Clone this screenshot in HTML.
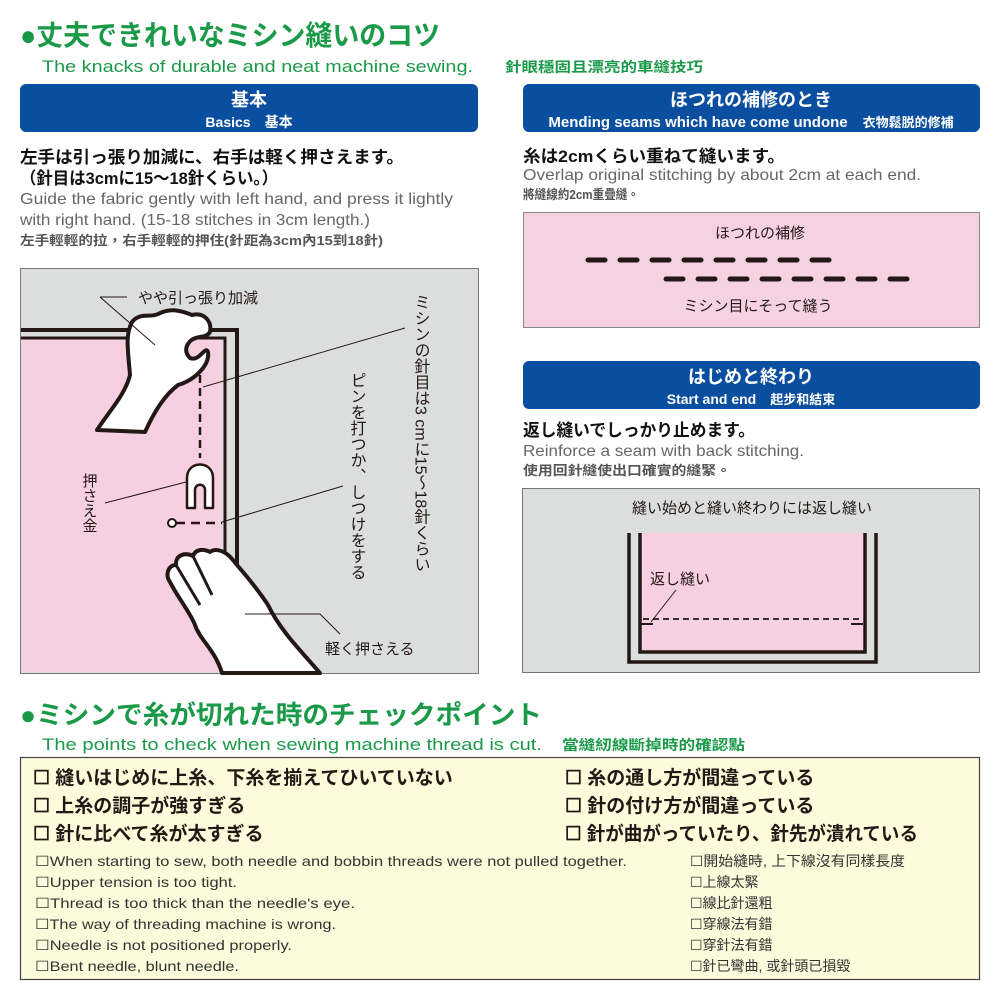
<!DOCTYPE html>
<html><head><meta charset="utf-8"><style>
html,body{margin:0;padding:0;background:#fff;}
svg{display:block;}
text{font-family:"Liberation Sans","Noto Sans CJK JP",sans-serif;}
.cn{font-family:"Liberation Sans","Noto Sans CJK TC",sans-serif;}
.nar{font-family:"Liberation Sans Narrow","Liberation Sans","Noto Sans CJK TC",sans-serif;}
</style></head><body>
<svg width="1001" height="1001" viewBox="0 0 1001 1001" xmlns="http://www.w3.org/2000/svg">
<rect width="1001" height="1001" fill="#fff"/>
<text x="20" y="45" font-size="28" font-weight="bold" fill="#1a9a48" textLength="420" lengthAdjust="spacingAndGlyphs">●丈夫できれいなミシン縫いのコツ</text>
<text x="42" y="72" font-size="17" fill="#1a9a48" textLength="431" lengthAdjust="spacingAndGlyphs">The knacks of durable and neat machine sewing.</text>
<text x="505" y="72" font-size="14" font-weight="bold" fill="#1a9a48" class="cn" textLength="198" lengthAdjust="spacingAndGlyphs">針眼穩固且漂亮的車縫技巧</text>

<rect x="20" y="84" width="458" height="48" rx="6" fill="#0a4f9f"/>
<text x="249" y="106" font-size="18" font-weight="bold" fill="#fff" text-anchor="middle">基本</text>
<text x="249" y="127" font-size="14" font-weight="bold" fill="#fff" text-anchor="middle">Basics　<tspan class="cn">基本</tspan></text>
<text x="20" y="163" font-size="17" font-weight="bold" fill="#111" textLength="384" lengthAdjust="spacingAndGlyphs">左手は引っ張り加減に、右手は軽く押さえます。</text>
<text x="20" y="184" font-size="17" font-weight="bold" fill="#111" textLength="258" lengthAdjust="spacingAndGlyphs">（針目は3cmに15～18針くらい。）</text>
<text x="20" y="204" font-size="16" fill="#666" textLength="433" lengthAdjust="spacingAndGlyphs">Guide the fabric gently with left hand, and press it lightly</text>
<text x="20" y="225" font-size="16" fill="#666" textLength="350" lengthAdjust="spacingAndGlyphs">with right hand. (15-18 stitches in 3cm length.)</text>
<text x="20" y="245" font-size="13" font-weight="bold" fill="#555" class="cn" textLength="363" lengthAdjust="spacingAndGlyphs">左手輕輕的拉，右手輕輕的押住(針距為3cm內15到18針)</text>

<rect x="20.5" y="268.5" width="458" height="405" fill="#dcdddd" stroke="#777" stroke-width="1"/>
<rect x="22" y="339" width="200" height="333" fill="#f6cfe0"/>
<polyline points="21,330 237,330 237,673" fill="none" stroke="#231815" stroke-width="4"/>
<polyline points="21,338 225,338 225,673" fill="none" stroke="#231815" stroke-width="3"/>
<path d="M97,430 C110,410 125,395 130,375 C128,350 125,335 132,322 C140,312 150,318 158,314 C170,308 180,310 192,315 C205,312 212,322 210,332 C206,338 200,336 196,338 C188,340 182,350 190,358 C200,362 205,345 208,352 C210,365 195,380 178,385 C165,395 155,410 145,432 Z" fill="#fff" stroke="#231815" stroke-width="4" stroke-linejoin="round"/>
<line x1="200" y1="375" x2="200" y2="458" stroke="#231815" stroke-width="2.5" stroke-dasharray="8,5"/>
<path d="M187,508 L187,478 C187,460 213,460 213,478 L213,508 L205,508 L205,490 C205,483 195,483 195,490 L195,508 Z" fill="#fff" stroke="#231815" stroke-width="2.5" stroke-linejoin="round"/>
<circle cx="172" cy="523" r="4" fill="#fff" stroke="#231815" stroke-width="2"/>
<line x1="176" y1="523" x2="222" y2="523" stroke="#231815" stroke-width="2.5" stroke-dasharray="9,6"/>
<path d="M320,673 C300,650 280,630 268,605 C255,585 245,575 233,560 C225,550 215,548 210,552 C202,548 195,550 193,556 C185,552 175,555 176,565 C168,565 165,575 170,582 C178,598 190,612 195,625 C200,640 215,650 222,673 Z" fill="#fff" stroke="#231815" stroke-width="4" stroke-linejoin="round"/>
<path d="M193,556 L212,595 M176,565 L200,605 M170,582 L192,618" stroke="#231815" stroke-width="3" fill="none"/>
<g stroke="#231815" stroke-width="1" fill="none">
<line x1="100" y1="297" x2="127" y2="297"/><line x1="100" y1="297" x2="155" y2="345"/>
<line x1="405" y1="328" x2="203" y2="387"/>
<line x1="105" y1="503" x2="186" y2="482"/>
<line x1="343" y1="486" x2="222" y2="522"/>
<line x1="245" y1="614" x2="320" y2="614"/><line x1="320" y1="614" x2="340" y2="634"/>
</g>
<text x="138" y="303" font-size="15" fill="#231815">やや引っ張り加減</text>
<text x="325" y="654" font-size="15" fill="#231815">軽く押さえる</text>
<text x="89" y="473" font-size="15" fill="#231815" style="writing-mode:vertical-rl">押さえ金</text>
<text x="420" y="294" font-size="16" fill="#231815" style="writing-mode:vertical-rl">ミシンの針目は3 cmに15～18針くらい</text>
<text x="356" y="372" font-size="16" fill="#231815" style="writing-mode:vertical-rl">ピンを打つか、しつけをする</text>

<rect x="523" y="84" width="457" height="48" rx="6" fill="#0a4f9f"/>
<text x="751" y="106" font-size="18" font-weight="bold" fill="#fff" text-anchor="middle">ほつれの補修のとき</text>
<text x="751" y="127" font-size="15" font-weight="bold" fill="#fff" text-anchor="middle">Mending seams which have come undone　<tspan class="cn" font-size="13">衣物鬆脱的修補</tspan></text>
<text x="523" y="162" font-size="17" font-weight="bold" fill="#111" textLength="262" lengthAdjust="spacingAndGlyphs">糸は2cmくらい重ねて縫います。</text>
<text x="523" y="180" font-size="16" fill="#666" textLength="398" lengthAdjust="spacingAndGlyphs">Overlap original stitching by about 2cm at each end.</text>
<text x="523" y="199" font-size="13" font-weight="bold" fill="#555" class="cn" textLength="116" lengthAdjust="spacingAndGlyphs">將縫線約2cm重疊縫。</text>
<rect x="523.5" y="212.5" width="456" height="115" fill="#f6d1e2" stroke="#888"/>
<text x="760" y="238" font-size="15" fill="#231815" text-anchor="middle">ほつれの補修</text>
<line x1="588" y1="260" x2="830" y2="260" stroke="#231815" stroke-width="5" stroke-linecap="round" stroke-dasharray="17,15"/>
<line x1="666" y1="279" x2="908" y2="279" stroke="#231815" stroke-width="5" stroke-linecap="round" stroke-dasharray="17,15"/>
<text x="758" y="311" font-size="15" fill="#231815" text-anchor="middle">ミシン目にそって縫う</text>

<rect x="523" y="361" width="457" height="48" rx="6" fill="#0a4f9f"/>
<text x="751" y="383" font-size="18" font-weight="bold" fill="#fff" text-anchor="middle">はじめと終わり</text>
<text x="751" y="404" font-size="14" font-weight="bold" fill="#fff" text-anchor="middle">Start and end　<tspan class="cn" font-size="13">起步和結束</tspan></text>
<text x="523" y="436" font-size="17" font-weight="bold" fill="#111" textLength="232" lengthAdjust="spacingAndGlyphs">返し縫いでしっかり止めます。</text>
<text x="523" y="456" font-size="16" fill="#666" textLength="281" lengthAdjust="spacingAndGlyphs">Reinforce a seam with back stitching.</text>
<text x="523" y="475" font-size="13" font-weight="bold" fill="#555" class="cn" textLength="208" lengthAdjust="spacingAndGlyphs">使用回針縫使出口確實的縫緊。</text>
<rect x="522.5" y="488.5" width="457" height="184" fill="#dcdddd" stroke="#777"/>
<text x="752" y="513" font-size="15" fill="#231815" text-anchor="middle">縫い始めと縫い終わりには返し縫い</text>
<rect x="641" y="533" width="224" height="119" fill="#f6cfe0"/>
<polyline points="629,533 629,662 876,662 876,533" fill="none" stroke="#231815" stroke-width="3.5"/>
<polyline points="640,533 640,652 865,652 865,533" fill="none" stroke="#231815" stroke-width="3.5"/>
<line x1="643" y1="619" x2="863" y2="619" stroke="#231815" stroke-width="1.8" stroke-dasharray="6,4"/>
<line x1="641" y1="624" x2="653" y2="624" stroke="#231815" stroke-width="2"/>
<line x1="851" y1="624" x2="863" y2="624" stroke="#231815" stroke-width="2"/>
<line x1="676" y1="590" x2="651" y2="622" stroke="#231815" stroke-width="1"/>
<text x="650" y="584" font-size="15" fill="#231815">返し縫い</text>

<text x="20" y="724" font-size="26" font-weight="bold" fill="#1a9a48" textLength="522" lengthAdjust="spacingAndGlyphs">●ミシンで糸が切れた時のチェックポイント</text>
<text x="42" y="750" font-size="17" fill="#1a9a48" textLength="500" lengthAdjust="spacingAndGlyphs">The points to check when sewing machine thread is cut.</text>
<text x="562" y="750" font-size="14" font-weight="bold" fill="#1a9a48" class="cn" textLength="183" lengthAdjust="spacingAndGlyphs">當縫紉線斷掉時的確認點</text>
<rect x="20.5" y="757.5" width="959" height="222" fill="#fdfbdb" stroke="#444" stroke-width="1.2"/>
<g font-size="19" font-weight="bold" fill="#231815">
<text x="33" y="784">☐ 縫いはじめに上糸、下糸を揃えてひいていない</text>
<text x="33" y="812">☐ 上糸の調子が強すぎる</text>
<text x="33" y="840">☐ 針に比べて糸が太すぎる</text>
<text x="565" y="784">☐ 糸の通し方が間違っている</text>
<text x="565" y="812">☐ 針の付け方が間違っている</text>
<text x="565" y="840" textLength="353" lengthAdjust="spacingAndGlyphs">☐ 針が曲がっていたり、針先が潰れている</text>
</g>
<g font-size="14" fill="#333" class="nar">
<text x="35" y="866" textLength="592" lengthAdjust="spacingAndGlyphs">☐When starting to sew, both needle and bobbin threads were not pulled together.</text>
<text x="35" y="887" textLength="202" lengthAdjust="spacingAndGlyphs">☐Upper tension is too tight.</text>
<text x="35" y="908" textLength="320" lengthAdjust="spacingAndGlyphs">☐Thread is too thick than the needle's eye.</text>
<text x="35" y="929" textLength="301" lengthAdjust="spacingAndGlyphs">☐The way of threading machine is wrong.</text>
<text x="35" y="950" textLength="257" lengthAdjust="spacingAndGlyphs">☐Needle is not positioned properly.</text>
<text x="35" y="971" textLength="204" lengthAdjust="spacingAndGlyphs">☐Bent needle, blunt needle.</text>
<text x="690" y="866" textLength="215" lengthAdjust="spacingAndGlyphs">☐開始縫時, 上下線沒有同樣長度</text>
<text x="690" y="887">☐上線太緊</text>
<text x="690" y="908">☐線比針還粗</text>
<text x="690" y="929">☐穿線法有錯</text>
<text x="690" y="950">☐穿針法有錯</text>
<text x="690" y="971">☐針已彎曲, 或針頭已損毀</text>
</g>
</svg>
</body></html>
